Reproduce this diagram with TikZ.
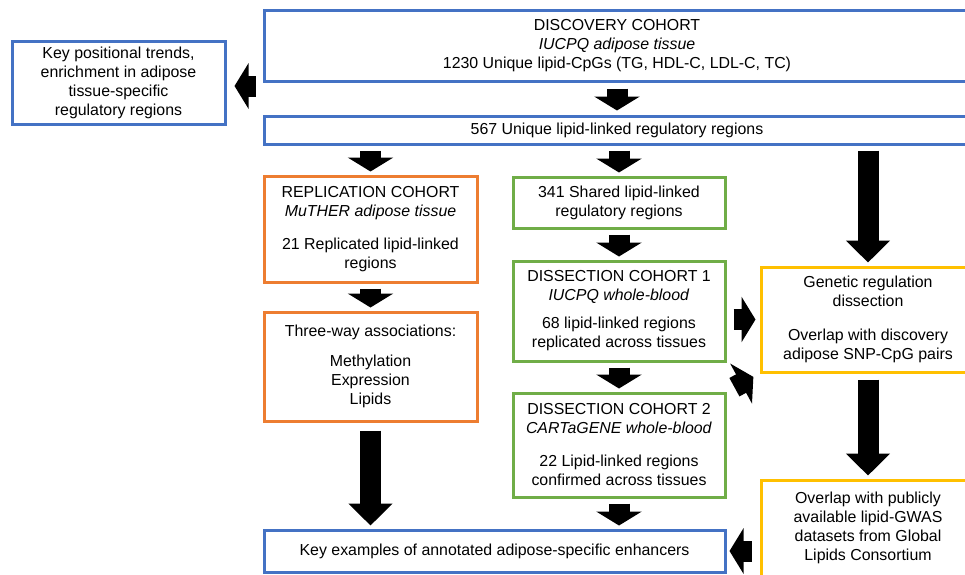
\documentclass[tikz,border=0pt]{standalone}
\usepackage{fontspec}
\setmainfont{Liberation Sans}
\usetikzlibrary{arrows.meta}

\definecolor{boxblue}{HTML}{4472C4}
\definecolor{boxorange}{HTML}{ED7D31}
\definecolor{boxgreen}{HTML}{70AD47}
\definecolor{boxyellow}{HTML}{FFC000}

\tikzset{
  box/.style={draw, line width=3pt, align=center, inner sep=0pt,
    font=\fontsize{15.9}{19}\selectfont},
  fat/.style={line width=21pt, shorten <=5pt, shorten >=3pt,
    -{Triangle[length=14pt,width=45pt]}},
  fatlong/.style={fat, -{Triangle[length=22pt,width=43pt]}}
}

\begin{document}
\begin{tikzpicture}[x=1pt,y=-1pt]
  \useasboundingbox (0,0) rectangle (965,574);

  % discovery
  \node[box, draw=boxblue, minimum width=706pt, minimum height=71pt] (disc) at (617,45.5)
    {DISCOVERY COHORT\\ \textit{IUCPQ adipose tissue}\\ 1230 Unique lipid-CpGs (TG, HDL-C, LDL-C, TC)};
  \node[box, draw=boxblue, minimum width=213pt, minimum height=83pt] (keypos) at (118.5,82.5)
    {Key positional trends,\\ enrichment in adipose\\ tissue-specific\\ regulatory regions};
  \node[box, draw=boxblue, minimum width=706pt, minimum height=28pt] (r567) at (617,130)
    {567 Unique lipid-linked regulatory regions};

  % replication column
  \node[box, draw=boxorange, minimum width=213pt, minimum height=106pt] (rep) at (370.5,229)
    {REPLICATION COHORT\\ \textit{MuTHER adipose tissue}\\[14pt] 21 Replicated lipid-linked\\ regions};
  \node[box, draw=boxorange, minimum width=213pt, minimum height=109pt] (three) at (370.5,366.5)
    {Three-way associations:\\[11pt] Methylation\\ Expression\\ Lipids};

  % dissection column
  \node[box, draw=boxgreen, minimum width=212pt, minimum height=51pt] (shared) at (619,202.5)
    {341 Shared lipid-linked\\ regulatory regions};
  \node[box, draw=boxgreen, minimum width=212pt, minimum height=100pt] (dis1) at (619,311)
    {DISSECTION COHORT 1\\ \textit{IUCPQ whole-blood}\\[9pt] 68 lipid-linked regions\\ replicated across tissues};
  \node[box, draw=boxgreen, minimum width=212pt, minimum height=104pt] (dis2) at (619,445)
    {DISSECTION COHORT 2\\ \textit{CARTaGENE whole-blood}\\[14pt] 22 Lipid-linked regions\\ confirmed across tissues};

  % genetic column
  \node[box, draw=boxyellow, minimum width=214pt, minimum height=105pt] (genetic) at (868,319.5)
    {Genetic regulation\\ dissection\\[15pt] Overlap with discovery\\ adipose SNP-CpG pairs};
  \node[box, draw=boxyellow, minimum width=214pt, minimum height=96pt] (overlap) at (868,528)
    {Overlap with publicly\\ available lipid-GWAS\\ datasets from Global\\ Lipids Consortium};

  \node[box, draw=boxblue, minimum width=461pt, minimum height=42pt] (keyex) at (494.5,551)
    {Key examples of annotated adipose-specific enhancers};

  % block arrows
  \draw[fat, shorten <=7pt, shorten >=8pt] ([yshift=-3.5pt]keypos.east -| disc.west) -- ([yshift=-3.5pt]keypos.east);
  \draw[fat, shorten <=6pt, shorten >=4pt] (disc.south) -- (r567.north);
  \foreach \a/\b in {r567/rep, rep/three, r567/shared, shared/dis1, dis1/dis2}
    \draw[fat] (\b |- \a.south) -- (\b.north);
  \draw[fat] (dis2.south) -- (dis2.south |- keyex.north);
  \draw[fatlong] (genetic |- r567.south) -- (genetic.north);
  \draw[fatlong, shorten <=8pt] (three.south) -- (three.south |- keyex.north);
  \draw[fatlong, shorten <=6pt] (genetic.south) -- (overlap.north);
  \draw[fat, shorten <=7pt, shorten >=4pt] (dis1.east |- genetic) -- (genetic.west);
  \draw[fat, shorten <=9pt, shorten >=7pt] (dis2.north east) -- (genetic.south west);
  \draw[fat, shorten <=8pt, shorten >=3pt] (overlap.west |- keyex) -- (keyex.east);
\end{tikzpicture}
\end{document}
